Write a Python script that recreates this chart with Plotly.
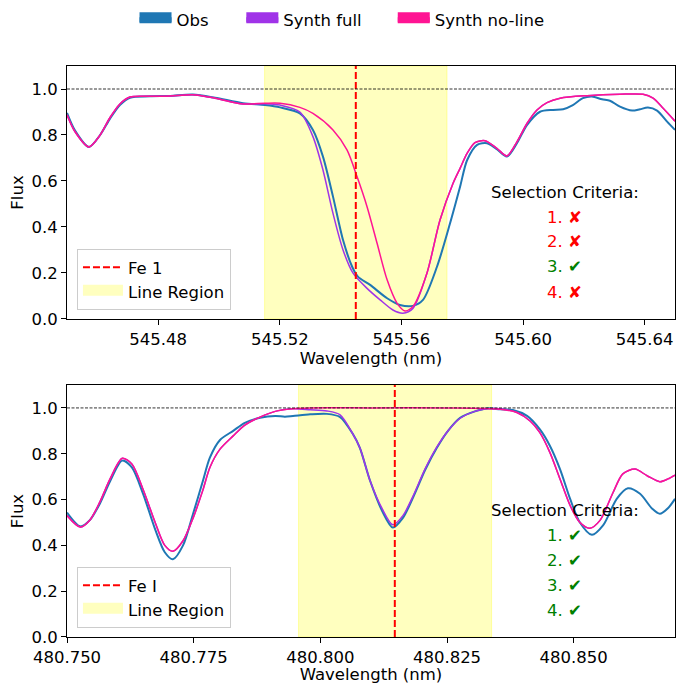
import plotly.graph_objects as go

# ---------------- Panel 1 data (Fe 1 near 545.545 nm) ----------------
wl1_obs = [545.4500, 545.4526, 545.4572, 545.4609, 545.4641, 545.4674, 545.4707, 545.4773,
           545.4839, 545.4914, 545.4987, 545.5079, 545.5151, 545.5201, 545.5266, 545.5309,
           545.5342, 545.5375, 545.5408, 545.5438, 545.5457, 545.5497, 545.5553, 545.5595,
           545.5638, 545.5671, 545.5717, 545.5760, 545.5793, 545.5816, 545.5849, 545.5882,
           545.5914, 545.5947, 545.5980, 545.6013, 545.6056, 545.6099, 545.6132, 545.6164,
           545.6197, 545.6227, 545.6260, 545.6286, 545.6319, 545.6359, 545.6385, 545.6411,
           545.6441, 545.6474, 545.6500]
flux1_obs = [0.896, 0.82, 0.748, 0.80, 0.87, 0.93, 0.962, 0.968,
             0.970, 0.976, 0.962, 0.938, 0.930, 0.920, 0.894, 0.822,
             0.706, 0.532, 0.343, 0.227, 0.184, 0.148, 0.090, 0.061,
             0.057, 0.083, 0.227, 0.416, 0.575, 0.690, 0.757, 0.764,
             0.738, 0.706, 0.764, 0.843, 0.901, 0.909, 0.912, 0.930,
             0.960, 0.967, 0.955, 0.949, 0.923, 0.906, 0.912, 0.919,
             0.906, 0.858, 0.822]

wl1_noline = [545.4500, 545.4526, 545.4572, 545.4609, 545.4641, 545.4674, 545.4707, 545.4773,
              545.4839, 545.4914, 545.4987, 545.5079, 545.5151, 545.5201, 545.5266, 545.5309,
              545.5375, 545.5421, 545.5454, 545.5487, 545.5520, 545.5553, 545.5586, 545.5612,
              545.5638, 545.5684, 545.5727, 545.5770, 545.5793, 545.5816, 545.5842, 545.5875,
              545.5914, 545.5947, 545.5980, 545.6013, 545.6046, 545.6079, 545.6122, 545.6211,
              545.6319, 545.6395, 545.6428, 545.6461, 545.6500]
flux1_noline = [0.888, 0.815, 0.748, 0.80, 0.875, 0.935, 0.965, 0.968,
                0.970, 0.975, 0.960, 0.935, 0.938, 0.938, 0.920, 0.894,
                0.822, 0.735, 0.619, 0.488, 0.329, 0.170, 0.068, 0.035,
                0.054, 0.199, 0.430, 0.590, 0.655, 0.720, 0.767, 0.775,
                0.742, 0.709, 0.770, 0.850, 0.909, 0.941, 0.960, 0.971,
                0.977, 0.977, 0.960, 0.916, 0.860]

wl1_full = [545.4500, 545.4526, 545.4572, 545.4609, 545.4641, 545.4674, 545.4707, 545.4773,
            545.4839, 545.4914, 545.4987, 545.5079, 545.5151, 545.5201, 545.5266, 545.5309,
            545.5342, 545.5375, 545.5408, 545.5441, 545.5487, 545.5530, 545.5572, 545.5605,
            545.5638, 545.5684, 545.5727, 545.5770, 545.5793, 545.5816, 545.5842, 545.5875,
            545.5914, 545.5947, 545.5980, 545.6013, 545.6046, 545.6079, 545.6122, 545.6211,
            545.6319, 545.6395, 545.6428, 545.6461, 545.6500]
flux1_full = [0.888, 0.815, 0.748, 0.80, 0.875, 0.935, 0.965, 0.968,
              0.970, 0.975, 0.960, 0.935, 0.936, 0.930, 0.900, 0.793,
              0.648, 0.459, 0.300, 0.199, 0.133, 0.083, 0.039, 0.025,
              0.046, 0.199, 0.430, 0.590, 0.655, 0.720, 0.767, 0.775,
              0.742, 0.709, 0.770, 0.850, 0.909, 0.941, 0.960, 0.971,
              0.977, 0.977, 0.960, 0.916, 0.860]

line1_center = 545.545
line1_region = [545.515, 545.575]
line1_label = "Fe 1"
criteria1 = [("1. \u2718", False), ("2. \u2718", False), ("3. \u2714", True), ("4. \u2718", False)]

# ---------------- Panel 2 data (Fe I near 480.815 nm) ----------------
wl2_obs = [480.7500, 480.7526, 480.7545, 480.7565, 480.7585, 480.7609, 480.7628, 480.7650,
           480.7674, 480.7693, 480.7709, 480.7729, 480.7749, 480.7768, 480.7782, 480.7802,
           480.7828, 480.7851, 480.7881, 480.7911, 480.7930, 480.7946, 480.7980, 480.8013,
           480.8039, 480.8064, 480.8078, 480.8098, 480.8122, 480.8143, 480.8163, 480.8183,
           480.8207, 480.8230, 480.8252, 480.8276, 480.8305, 480.8329, 480.8355, 480.8380,
           480.8408, 480.8433, 480.8453, 480.8473, 480.8493, 480.8512, 480.8536, 480.8558,
           480.8585, 480.8607, 480.8631, 480.8655, 480.8670, 480.8686, 480.8700]
flux2_obs = [0.543, 0.483, 0.510, 0.583, 0.680, 0.770, 0.740, 0.626,
             0.470, 0.370, 0.339, 0.400, 0.539, 0.680, 0.783, 0.860,
             0.900, 0.935, 0.957, 0.965, 0.962, 0.965, 0.972, 0.974,
             0.960, 0.887, 0.826, 0.683, 0.550, 0.478, 0.520, 0.609,
             0.730, 0.826, 0.900, 0.957, 0.985, 0.998, 0.994, 0.991,
             0.965, 0.907, 0.835, 0.733, 0.603, 0.501, 0.446, 0.487,
             0.603, 0.649, 0.625, 0.560, 0.538, 0.562, 0.603]

wl2_noline = [480.7500, 480.7526, 480.7545, 480.7565, 480.7585, 480.7609, 480.7628, 480.7650,
              480.7674, 480.7693, 480.7709, 480.7729, 480.7749, 480.7768, 480.7782, 480.7802,
              480.7828, 480.7851, 480.7881, 480.7911, 480.7946, 480.7980, 480.8100, 480.8250,
              480.8355, 480.8388, 480.8414, 480.8433, 480.8453, 480.8473, 480.8493, 480.8512,
              480.8532, 480.8552, 480.8578, 480.8597, 480.8621, 480.8645, 480.8670, 480.8686,
              480.8700]
flux2_noline = [0.530, 0.480, 0.510, 0.590, 0.690, 0.780, 0.755, 0.645,
                0.500, 0.400, 0.374, 0.420, 0.520, 0.640, 0.740, 0.820,
                0.878, 0.925, 0.960, 0.985, 0.996, 1.000, 1.000, 1.000,
                0.994, 0.980, 0.943, 0.893, 0.806, 0.690, 0.574, 0.501,
                0.475, 0.509, 0.632, 0.712, 0.733, 0.704, 0.678, 0.690,
                0.707]

wl2_full = [480.7500, 480.7526, 480.7545, 480.7565, 480.7585, 480.7609, 480.7628, 480.7650,
            480.7674, 480.7693, 480.7709, 480.7729, 480.7749, 480.7768, 480.7782, 480.7802,
            480.7828, 480.7851, 480.7881, 480.7911, 480.7946, 480.7980, 480.8013, 480.8039,
            480.8064, 480.8078, 480.8098, 480.8122, 480.8143, 480.8163, 480.8183, 480.8207,
            480.8230, 480.8252, 480.8276, 480.8305, 480.8329, 480.8355, 480.8388, 480.8414,
            480.8433, 480.8453, 480.8473, 480.8493, 480.8512, 480.8532, 480.8552, 480.8578,
            480.8597, 480.8621, 480.8645, 480.8670, 480.8686, 480.8700]
flux2_full = [0.530, 0.480, 0.510, 0.590, 0.690, 0.780, 0.755, 0.645,
              0.500, 0.400, 0.374, 0.420, 0.520, 0.640, 0.740, 0.820,
              0.878, 0.925, 0.960, 0.985, 0.996, 0.992, 0.987, 0.970,
              0.887, 0.826, 0.683, 0.560, 0.490, 0.530, 0.615, 0.735,
              0.830, 0.900, 0.955, 0.985, 0.996, 0.996, 0.980, 0.943,
              0.893, 0.806, 0.690, 0.574, 0.501, 0.475, 0.509, 0.632,
              0.712, 0.733, 0.704, 0.678, 0.690, 0.707]

line2_center = 480.8147
line2_region = [480.7957, 480.8338]
line2_label = "Fe I"
criteria2 = [("1. \u2714", True), ("2. \u2714", True), ("3. \u2714", True), ("4. \u2714", True)]

# ---------------- Axis settings ----------------
x1_range = [545.45, 545.65]
x1_ticks = [545.48, 545.52, 545.56, 545.60, 545.64]
x2_range = [480.75, 480.87]
x2_ticks = [480.750, 480.775, 480.800, 480.825, 480.850]
y_range = [0, 1.1]
y_ticks = [0.0, 0.2, 0.4, 0.6, 0.8, 1.0]
criteria_title = "Selection Criteria:"
criteria_y = [0.552, 0.443, 0.335, 0.226, 0.117]

C_OBS = "#1f77b4"
C_FULL = "#a033e8"
C_NOLINE = "#ff1493"
C_REGION = "rgba(255,255,0,0.25)"
C_REGION_SOLID = "#ffffbf"
FONT = "DejaVu Sans"
FS = 16.5

fig = go.Figure()

panels = [
    (wl1_obs, flux1_obs, wl1_full, flux1_full, wl1_noline, flux1_noline,
     line1_center, line1_region, line1_label, criteria1, "x", "y", "legend2"),
    (wl2_obs, flux2_obs, wl2_full, flux2_full, wl2_noline, flux2_noline,
     line2_center, line2_region, line2_label, criteria2, "x2", "y2", "legend3"),
]

for (wo, fo, wf, ff, wn, fn, lc, reg, lab, crit, xa, ya, lg) in panels:
    fig.add_trace(go.Scatter(x=wo, y=fo, mode="lines", line=dict(color=C_OBS, width=2, shape="spline", smoothing=0.8),
                             showlegend=False, xaxis=xa, yaxis=ya))
    fig.add_trace(go.Scatter(x=wf, y=ff, mode="lines", line=dict(color=C_FULL, width=1.5, shape="spline", smoothing=0.8),
                             showlegend=False, xaxis=xa, yaxis=ya))
    fig.add_trace(go.Scatter(x=wn, y=fn, mode="lines", line=dict(color=C_NOLINE, width=1.5, shape="spline", smoothing=0.8),
                             showlegend=False, xaxis=xa, yaxis=ya))
    # vertical line at line center
    fig.add_trace(go.Scatter(x=[lc, lc], y=y_range, mode="lines",
                             line=dict(color="red", width=2, dash="7px,3px"),
                             name=lab, legend=lg, showlegend=True, xaxis=xa, yaxis=ya))
    # legend patch for line region
    fig.add_trace(go.Scatter(x=[None], y=[None], mode="lines", fill="toself",
                             fillcolor=C_REGION_SOLID, line=dict(width=10, color=C_REGION_SOLID),
                             name="Line Region", legend=lg, showlegend=True, xaxis=xa, yaxis=ya))
    # shaded region
    fig.add_shape(type="rect", xref=xa, yref=ya + " domain", x0=reg[0], x1=reg[1], y0=0, y1=1,
                  fillcolor=C_REGION, line=dict(width=1, color="rgba(255,255,0,0.3)"), layer="below")
    # continuum line
    fig.add_shape(type="line", xref=xa + " domain", yref=ya, x0=0, x1=1, y0=1.0, y1=1.0,
                  line=dict(color="black", width=0.8, dash="3px,1.5px"))
    # selection criteria
    fig.add_annotation(x=0.819, y=criteria_y[0], xref=xa + " domain", yref=ya, text=criteria_title,
                       xanchor="center", yanchor="middle", showarrow=False,
                       font=dict(family=FONT, size=FS, color="black"))
    for i, (t, ok) in enumerate(crit):
        fig.add_annotation(x=0.819, y=criteria_y[i + 1], xref=xa + " domain", yref=ya, text=t,
                           xanchor="center", yanchor="middle", showarrow=False,
                           font=dict(family=FONT, size=FS, color="green" if ok else "red"))

# figure legend entries (patches), each in its own legend for exact placement
fig_legend_items = [("Obs", C_OBS, "legend", 0.199), ("Synth full", C_FULL, "legend4", 0.357),
                    ("Synth no-line", C_NOLINE, "legend5", 0.581)]
for nm, col, lg, _ in fig_legend_items:
    fig.add_trace(go.Scatter(x=[None], y=[None], mode="lines", fill="toself", fillcolor=col,
                             line=dict(width=10, color=col), name=nm, legend=lg, showlegend=True))

axis_common = dict(showline=True, linecolor="black", linewidth=1, mirror=True, ticks="outside",
                   ticklen=5, tickcolor="black", showgrid=False, zeroline=False,
                   tickfont=dict(family=FONT, size=FS, color="black"))

top_leg = dict(orientation="h", xref="container", xanchor="left", yref="container", y=0.9715,
               yanchor="middle", font=dict(family=FONT, size=FS), bgcolor="rgba(0,0,0,0)",
               itemwidth=32, borderwidth=0)

fig.update_layout(
    width=676, height=684,
    margin=dict(l=67, r=1, t=66, b=47, autoexpand=False),
    plot_bgcolor="white", paper_bgcolor="white",
    font=dict(family=FONT, size=FS, color="black"),
    xaxis=dict(domain=[0, 1], range=x1_range, tickvals=x1_ticks, tickformat=".2f", anchor="y",
               title=dict(text="Wavelength (nm)", standoff=3, font=dict(family=FONT, size=FS)), **axis_common),
    yaxis=dict(domain=[0.557, 1], range=y_range, tickvals=y_ticks, tickformat=".1f", anchor="x",
               title=dict(text="Flux", standoff=3, font=dict(family=FONT, size=FS)), **axis_common),
    xaxis2=dict(domain=[0, 1], range=x2_range, tickvals=x2_ticks, tickformat=".3f", anchor="y2",
                title=dict(text="Wavelength (nm)", standoff=3, font=dict(family=FONT, size=FS)), **axis_common),
    yaxis2=dict(domain=[0, 0.4413], range=y_range, tickvals=y_ticks, tickformat=".1f", anchor="x2",
                title=dict(text="Flux", standoff=3, font=dict(family=FONT, size=FS)), **axis_common),
    legend=dict(x=fig_legend_items[0][3], **top_leg),
    legend4=dict(x=fig_legend_items[1][3], **top_leg),
    legend5=dict(x=fig_legend_items[2][3], **top_leg),
    legend2=dict(x=0.0164, y=0.5727, xanchor="left", yanchor="bottom", bgcolor="rgba(255,255,255,0.8)",
                 bordercolor="#cccccc", borderwidth=1, font=dict(family=FONT, size=FS), itemwidth=40),
    legend3=dict(x=0.0164, y=0.0158, xanchor="left", yanchor="bottom", bgcolor="rgba(255,255,255,0.8)",
                 bordercolor="#cccccc", borderwidth=1, font=dict(family=FONT, size=FS), itemwidth=40),
)

fig.write_html("out.html")
